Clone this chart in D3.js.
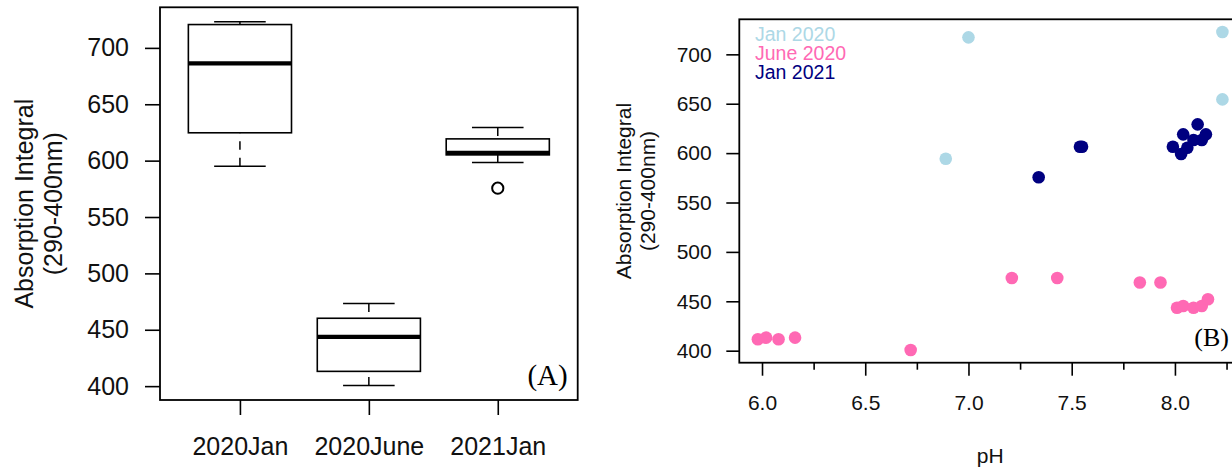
<!DOCTYPE html>
<html>
<head>
<meta charset="utf-8">
<script src="https://cdn.jsdelivr.net/npm/d3@7"></script>
<style>
  html, body { margin: 0; padding: 0; background: #fff; }
  svg { display: block; font-family: "Liberation Sans", Arial, sans-serif; }
</style>
</head>
<body>
<div id="chart"></div>
<script>
// panel A: boxplot summaries
const boxGroups = ['2020Jan', '2020June', '2021Jan'];
const boxMin = [595.1, 400.6, 598.4];
const boxQ1 = [624.7, 413.1, 605.1];
const boxMedian = [686.3, 443.6, 606.9];
const boxQ3 = [720.7, 460.2, 619.3];
const boxMax = [723.1, 473.3, 629.4];
const boxOutliers = [[], [], [575.6]];

// panel B: absorption vs pH
const seriesNames = ['Jan 2020', 'June 2020', 'Jan 2021'];
const seriesColors = ['#add8e6', '#ff69b4', '#000080'];
const jan2020PH = [6.89, 7.00, 8.23, 8.23];
const jan2020Abs = [594.3, 717.2, 722.6, 654.4];
const june2020PH = [5.98, 6.02, 6.08, 6.16, 6.72, 7.21, 7.43, 7.83, 7.93, 8.01, 8.04, 8.09, 8.13, 8.16];
const june2020Abs = [411.5, 413.2, 411.5, 413.2, 400.7, 473.6, 473.6, 469.0, 469.0, 443.5, 445.2, 443.5, 445.2, 452.0];
const jan2021PH = [7.34, 7.54, 7.55, 7.99, 8.03, 8.04, 8.06, 8.09, 8.11, 8.13, 8.15];
const jan2021Abs = [575.5, 606.5, 606.5, 606.5, 599.1, 619.0, 605.5, 613.3, 629.1, 613.3, 619.0];

const yTicks = [400, 450, 500, 550, 600, 650, 700];
const phTicks = [6.0, 6.5, 7.0, 7.5, 8.0];
const phMinorTicks = [6.25, 6.75, 7.25, 7.75, 8.25];

const W = 1232, H = 467;
const svg = d3.select('#chart').append('svg')
  .attr('width', W)
  .attr('height', H);

// R style 4% padding
const pad = (ext) => {
  const r = ext[1] - ext[0];
  return [ext[0] - 0.04 * r, ext[1] + 0.04 * r];
};

// ---------- panel A ----------
const A = {left: 160, right: 577.7, top: 7.3, bottom: 400};
const allBox = boxMin.concat(boxMax, d3.merge(boxOutliers));
const yA = d3.scaleLinear().domain(pad(d3.extent(allBox))).range([A.bottom, A.top]);
const xA = d3.scaleLinear().domain([0.38, boxGroups.length + 0.62]).range([A.left, A.right]);

const gA = svg.append('g');

const yAxisA = gA.append('g')
  .attr('transform', `translate(${A.left},0)`)
  .call(d3.axisLeft(yA).tickValues(yTicks).tickSize(15).tickPadding(16).tickFormat(d3.format('d')));
yAxisA.select('.domain').remove();
yAxisA.selectAll('line').attr('stroke', '#000').attr('stroke-width', 1.6);
yAxisA.selectAll('text').attr('font-size', 25).attr('fill', '#111')
  .attr('font-family', '"Liberation Sans", Arial, sans-serif');

const xAxisA = gA.append('g')
  .attr('transform', `translate(0,${A.bottom})`)
  .call(d3.axisBottom(xA).tickValues(d3.range(1, boxGroups.length + 1)).tickSize(15).tickPadding(22)
    .tickFormat((d) => boxGroups[d - 1]));
xAxisA.select('.domain').remove();
xAxisA.selectAll('line').attr('stroke', '#000').attr('stroke-width', 1.6);
xAxisA.selectAll('text').attr('font-size', 25).attr('fill', '#111')
  .attr('font-family', '"Liberation Sans", Arial, sans-serif');

const boxes = gA.selectAll('.box')
  .data(boxGroups.map((g, i) => ({
    i: i + 1, min: boxMin[i], q1: boxQ1[i], med: boxMedian[i], q3: boxQ3[i], max: boxMax[i], out: boxOutliers[i]
  })))
  .enter().append('g')
  .attr('class', 'box');

// whiskers, dashed from the staple toward the box
boxes.append('line')
  .attr('x1', (d) => xA(d.i)).attr('x2', (d) => xA(d.i))
  .attr('y1', (d) => yA(d.max)).attr('y2', (d) => yA(d.q3))
  .attr('stroke', '#000').attr('stroke-width', 1.5).attr('stroke-dasharray', '8.5,8');
boxes.append('line')
  .attr('x1', (d) => xA(d.i)).attr('x2', (d) => xA(d.i))
  .attr('y1', (d) => yA(d.min)).attr('y2', (d) => yA(d.q1))
  .attr('stroke', '#000').attr('stroke-width', 1.5).attr('stroke-dasharray', '8.5,8');
// staples
['min', 'max'].forEach((k) => {
  boxes.append('line')
    .attr('x1', (d) => xA(d.i - 0.2)).attr('x2', (d) => xA(d.i + 0.2))
    .attr('y1', (d) => yA(d[k])).attr('y2', (d) => yA(d[k]))
    .attr('stroke', '#000').attr('stroke-width', 1.5);
});
boxes.append('rect')
  .attr('x', (d) => xA(d.i - 0.4))
  .attr('width', (d) => xA(d.i + 0.4) - xA(d.i - 0.4))
  .attr('y', (d) => yA(d.q3))
  .attr('height', (d) => yA(d.q1) - yA(d.q3))
  .attr('fill', '#fff').attr('stroke', '#000').attr('stroke-width', 1.6);
boxes.append('line')
  .attr('x1', (d) => xA(d.i - 0.4)).attr('x2', (d) => xA(d.i + 0.4))
  .attr('y1', (d) => yA(d.med)).attr('y2', (d) => yA(d.med))
  .attr('stroke', '#000').attr('stroke-width', 4.2);
boxes.selectAll('circle')
  .data((d) => d.out.map((v) => ({i: d.i, v: v})))
  .enter().append('circle')
  .attr('cx', (d) => xA(d.i)).attr('cy', (d) => yA(d.v))
  .attr('r', 5.6).attr('fill', 'none').attr('stroke', '#000').attr('stroke-width', 2);

gA.append('rect')
  .attr('x', A.left).attr('y', A.top)
  .attr('width', A.right - A.left).attr('height', A.bottom - A.top)
  .attr('fill', 'none').attr('stroke', '#000').attr('stroke-width', 1.8);

gA.append('text')
  .attr('x', A.right - 10).attr('y', A.bottom - 15.5)
  .attr('text-anchor', 'end')
  .attr('font-family', '"Liberation Serif", "Times New Roman", serif')
  .attr('font-size', 29)
  .text('(A)');

const yLabA = gA.append('text')
  .attr('transform', `translate(0,${(A.top + A.bottom) / 2}) rotate(-90)`)
  .attr('text-anchor', 'middle')
  .attr('font-size', 25).attr('fill', '#111');
yLabA.append('tspan').attr('x', 0).attr('y', 33).text('Absorption Integral');
yLabA.append('tspan').attr('x', 0).attr('y', 62).text('(290-400nm)');

// ---------- panel B ----------
const B = {left: 739.3, right: 1241, top: 19.3, bottom: 362.7};
const allPH = jan2020PH.concat(june2020PH, jan2021PH);
const allAbs = jan2020Abs.concat(june2020Abs, jan2021Abs);
const xB = d3.scaleLinear().domain(pad(d3.extent(allPH))).range([B.left, B.right]);
const yB = d3.scaleLinear().domain(pad(d3.extent(allAbs))).range([B.bottom, B.top]);

const gB = svg.append('g');

const yAxisB = gB.append('g')
  .attr('transform', `translate(${B.left},0)`)
  .call(d3.axisLeft(yB).tickValues(yTicks).tickSize(13).tickPadding(14.6).tickFormat(d3.format('d')));
yAxisB.select('.domain').remove();
yAxisB.selectAll('line').attr('stroke', '#000').attr('stroke-width', 1.6);
yAxisB.selectAll('text').attr('font-size', 21).attr('fill', '#111')
  .attr('font-family', '"Liberation Sans", Arial, sans-serif');

const xAxisB = gB.append('g')
  .attr('transform', `translate(0,${B.bottom})`)
  .call(d3.axisBottom(xB).tickValues(phTicks).tickSize(13).tickPadding(19.4).tickFormat(d3.format('.1f')));
xAxisB.select('.domain').remove();
xAxisB.selectAll('line').attr('stroke', '#000').attr('stroke-width', 1.6);
xAxisB.selectAll('text').attr('font-size', 21).attr('fill', '#111')
  .attr('font-family', '"Liberation Sans", Arial, sans-serif');

const xMinorB = gB.append('g')
  .attr('transform', `translate(0,${B.bottom})`)
  .call(d3.axisBottom(xB).tickValues(phMinorTicks).tickSize(7).tickFormat(''));
xMinorB.select('.domain').remove();
xMinorB.selectAll('line').attr('stroke', '#000').attr('stroke-width', 1.6);

const series = [
  {ph: jan2020PH, abs: jan2020Abs},
  {ph: june2020PH, abs: june2020Abs},
  {ph: jan2021PH, abs: jan2021Abs}
];

gB.selectAll('.series')
  .data(series)
  .enter().append('g')
  .attr('class', 'series')
  .attr('fill', (d, i) => seriesColors[i])
  .selectAll('circle')
  .data((d) => d.ph.map((p, j) => [p, d.abs[j]]))
  .enter().append('circle')
  .attr('cx', (d) => xB(d[0]))
  .attr('cy', (d) => yB(d[1]))
  .attr('r', 6.3);

gB.append('rect')
  .attr('x', B.left).attr('y', B.top)
  .attr('width', B.right - B.left).attr('height', B.bottom - B.top)
  .attr('fill', 'none').attr('stroke', '#000').attr('stroke-width', 1.8);

gB.selectAll('.legend')
  .data(seriesNames)
  .enter().append('text')
  .attr('class', 'legend')
  .attr('x', 755)
  .attr('y', (d, i) => 40.7 + i * 19.3)
  .attr('font-size', 19.5)
  .attr('fill', (d, i) => seriesColors[i])
  .text((d) => d);

gB.append('text')
  .attr('x', B.right - 12).attr('y', B.bottom - 16.5)
  .attr('text-anchor', 'end')
  .attr('font-family', '"Liberation Serif", "Times New Roman", serif')
  .attr('font-size', 26)
  .text('(B)');

const yLabB = gB.append('text')
  .attr('transform', `translate(0,${(B.top + B.bottom) / 2}) rotate(-90)`)
  .attr('text-anchor', 'middle')
  .attr('font-size', 21).attr('fill', '#111');
yLabB.append('tspan').attr('x', 0).attr('y', 631).text('Absorption Integral');
yLabB.append('tspan').attr('x', 0).attr('y', 655).text('(290-400nm)');

gB.append('text')
  .attr('x', (B.left + B.right) / 2).attr('y', 462.5)
  .attr('text-anchor', 'middle')
  .attr('font-size', 21).attr('fill', '#111')
  .text('pH');
</script>
</body>
</html>
